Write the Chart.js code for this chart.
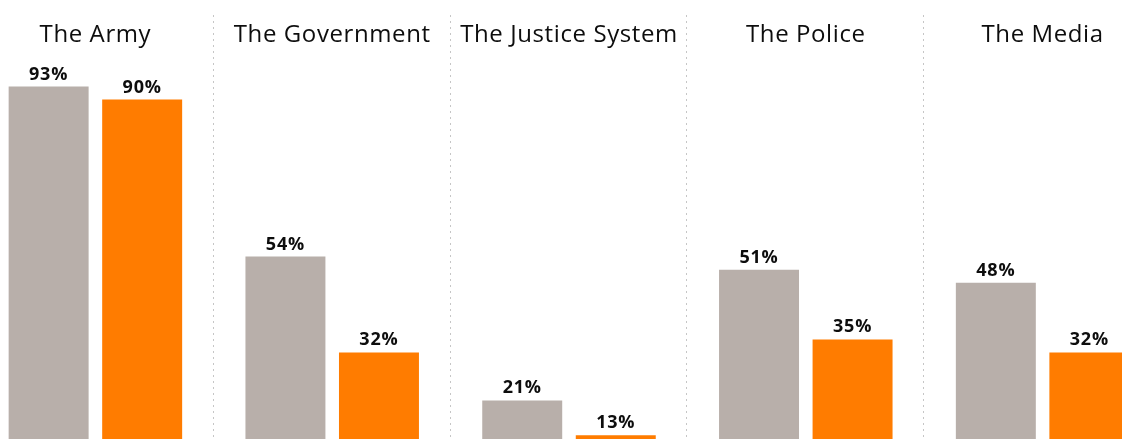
<!DOCTYPE html>
<html>
<head>
<meta charset="utf-8">
<script src="https://cdn.jsdelivr.net/npm/chart.js@4/dist/chart.umd.min.js"></script>
<style>
    html, body { margin: 0; padding: 0; background: #fff; overflow: hidden; }
    body { width: 1122px; height: 439px; position: relative; }
    /* the plot runs a little past both edges of the page */
    #trust { position: absolute; left: -23px; top: 0; }
</style>
</head>
<body>
<canvas id="trust" width="1184" height="492"></canvas>
<script>
    "use strict";

    var institutions = ['The Army', 'The Government', 'The Justice System', 'The Police', 'The Media'];
    var trustBefore = [93, 54, 21, 51, 48];
    var trustNow = [90, 32, 13, 35, 32];

    var GREY = '#b8afaa';
    var ORANGE = '#ff7c00';
    var FONT = "'Open Sans', sans-serif";

    // dotted dividers between the groups
    var dividers = {
        id: 'dividers',
        beforeDatasetsDraw(chart) {
            let x = chart.scales.x;
            let ctx = chart.ctx;
            ctx.save();
            ctx.strokeStyle = '#c6c6c6';
            ctx.lineWidth = 1;
            ctx.setLineDash([2, 4]);
            for (let i = 0; i < institutions.length - 1; i++) {
                let px = Math.round((x.getPixelForValue(i) + x.getPixelForValue(i + 1)) / 2) - 1 + 0.5;
                ctx.beginPath();
                ctx.moveTo(px, 15);
                ctx.lineTo(px, chart.height);
                ctx.stroke();
            }
            ctx.restore();
        }
    };

    // group names across the top
    var groupTitles = {
        id: 'groupTitles',
        afterDraw(chart) {
            let x = chart.scales.x;
            let ctx = chart.ctx;
            ctx.save();
            ctx.font = '400 24px ' + FONT;
            ctx.letterSpacing = '0.6px';
            ctx.fillStyle = '#0d0d0d';
            ctx.textAlign = 'center';
            ctx.textBaseline = 'alphabetic';
            institutions.forEach((name, i) => {
                ctx.fillText(name, x.getPixelForValue(i), 42);
            });
            ctx.restore();
        }
    };

    // percentage above each bar
    var valueLabels = {
        id: 'valueLabels',
        afterDatasetsDraw(chart) {
            let ctx = chart.ctx;
            ctx.save();
            ctx.font = '700 18px ' + FONT;
            ctx.letterSpacing = '0.8px';
            ctx.fillStyle = '#0d0d0d';
            ctx.textAlign = 'center';
            ctx.textBaseline = 'alphabetic';
            chart.data.datasets.forEach((ds, di) => {
                chart.getDatasetMeta(di).data.forEach((bar, i) => {
                    ctx.fillText(ds.data[i] + '%', bar.x, bar.y - 7);
                });
            });
            ctx.restore();
        }
    };

    new Chart(document.getElementById('trust').getContext('2d'), {
        type: 'bar',
        data: {
            labels: institutions,
            datasets: [
                { label: 'Before', data: trustBefore, backgroundColor: GREY, borderWidth: 0 },
                { label: 'Now', data: trustNow, backgroundColor: ORANGE, borderWidth: 0 }
            ]
        },
        options: {
            responsive: false,
            devicePixelRatio: 1,
            animation: false,
            layout: { padding: { top: 56, bottom: 0, left: 0, right: 0 } },
            categoryPercentage: 0.79,
            barPercentage: 0.855,
            plugins: {
                legend: { display: false },
                tooltip: { enabled: false },
                title: { display: false }
            },
            scales: {
                x: { display: false },
                y: { display: false, min: 0, max: 100 }
            }
        },
        plugins: [dividers, groupTitles, valueLabels]
    });
</script>
</body>
</html>
